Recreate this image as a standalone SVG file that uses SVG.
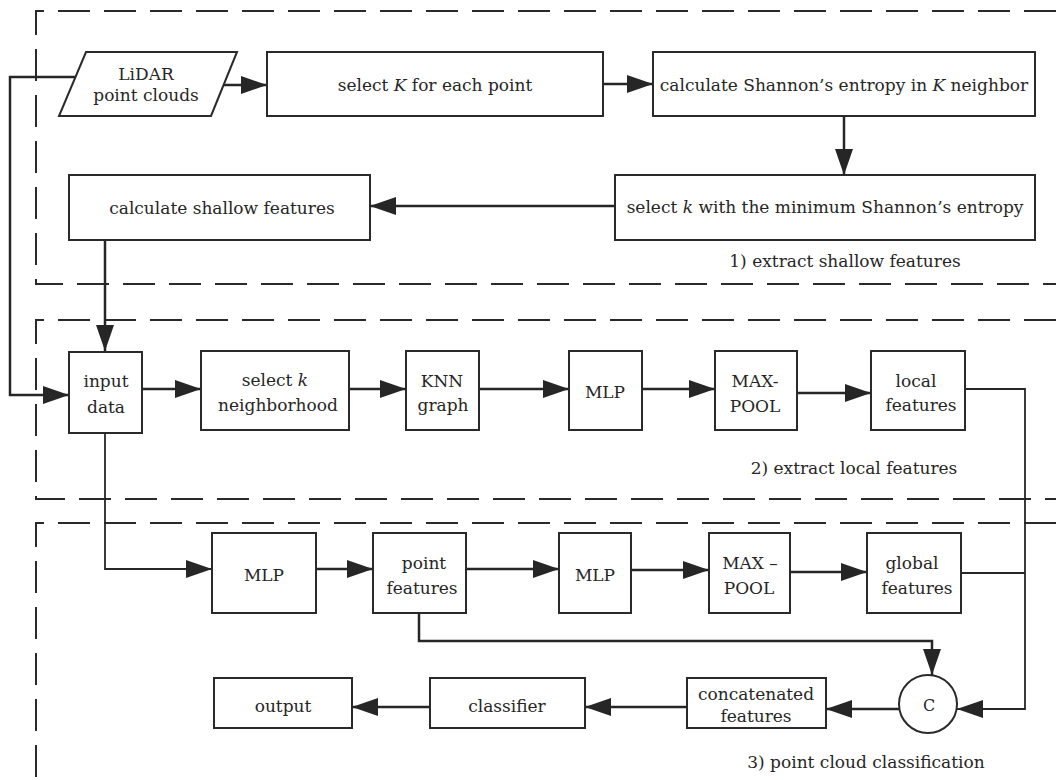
<svg xmlns="http://www.w3.org/2000/svg" width="1056" height="780" viewBox="0 0 1056 780">
<defs>
<marker id="ah" markerUnits="userSpaceOnUse" markerWidth="28" markerHeight="20" refX="26" refY="9" orient="auto">
<path d="M0,0 L26,9 L0,18 z" fill="#262626"/>
</marker>
<style>
.bx{fill:#fff;stroke:#2a2a2a;stroke-width:2}
.ds{fill:none;stroke:#2a2a2a;stroke-width:2;stroke-dasharray:32 14}
.cn{fill:none;stroke:#262626;stroke-width:2.5}
.cn2{fill:none;stroke:#262626;stroke-width:1.8}
.t{font-family:'DejaVu Serif',serif;font-size:17px;fill:#262626;text-anchor:middle}
.it{font-style:italic}
</style>
</defs>
<rect width="1056" height="780" fill="#fff"/>
<g id="sections" class="t">
<path class="ds" d="M1056,11 H36 V284 H1056"/>
<path class="ds" d="M1056,320 H36 V499 H1056"/>
<path class="ds" d="M1056,523 H36 V780"/>
<text x="845" y="267">1)  extract shallow features</text>
<text x="854" y="474">2) extract local features</text>
<text x="866" y="768">3)  point cloud classification</text>
</g>
<g id="connectors">
<path class="cn" d="M224,85 H267" marker-end="url(#ah)"/>
<path class="cn" d="M603,84 H653" marker-end="url(#ah)"/>
<path class="cn" d="M844,116 V175" marker-end="url(#ah)"/>
<path class="cn" d="M615,206 H370" marker-end="url(#ah)"/>
<path class="cn" d="M105,240 V351" marker-end="url(#ah)"/>
<path class="cn" d="M75,77 H10 V395 H69" marker-end="url(#ah)"/>
<path class="cn" d="M142,389 H201" marker-end="url(#ah)"/>
<path class="cn" d="M349,389 H406" marker-end="url(#ah)"/>
<path class="cn" d="M479,389 H569" marker-end="url(#ah)"/>
<path class="cn" d="M642,389 H715" marker-end="url(#ah)"/>
<path class="cn" d="M797,393 H871" marker-end="url(#ah)"/>
<path class="cn2" d="M965,389 H1025 V709 H957" marker-end="url(#ah)"/>
<path class="cn2" d="M961,573 H1025"/>
<path class="cn2" d="M105,433 V569 H212" marker-end="url(#ah)"/>
<path class="cn" d="M316,569 H373" marker-end="url(#ah)"/>
<path class="cn" d="M466,569 H559" marker-end="url(#ah)"/>
<path class="cn" d="M631,570 H709" marker-end="url(#ah)"/>
<path class="cn" d="M790,572 H867" marker-end="url(#ah)"/>
<path class="cn" d="M419,613 V641 H932 V675" marker-end="url(#ah)"/>
<path class="cn" d="M900,709 H826" marker-end="url(#ah)"/>
<path class="cn" d="M687,707 H585" marker-end="url(#ah)"/>
<path class="cn" d="M430,707 H352" marker-end="url(#ah)"/>
</g>
<g class="t">
<g id="lidar">
<path class="bx" d="M86,52 H237 L211,116 H59 z"/>
<text x="146" y="80">LiDAR</text>
<text x="146" y="101">point clouds</text>
</g>
<g id="selectK">
<rect class="bx" x="267" y="52" width="336" height="64"/>
<text x="435" y="91">select <tspan class="it">K</tspan> for each point</text>
</g>
<g id="shannon">
<rect class="bx" x="653" y="52" width="382" height="64"/>
<text x="844" y="91">calculate Shannon’s entropy in <tspan class="it">K</tspan> neighbor</text>
</g>
<g id="minEntropy">
<rect class="bx" x="615" y="175" width="420" height="65"/>
<text x="825" y="213">select <tspan class="it">k</tspan> with the minimum Shannon’s  entropy</text>
</g>
<g id="shallow">
<rect class="bx" x="69" y="175" width="301" height="65"/>
<text x="222" y="214">calculate shallow features</text>
</g>
<g id="inputData">
<rect class="bx" x="69" y="352" width="73" height="81"/>
<text x="106" y="387">input</text>
<text x="106" y="413">data</text>
</g>
<g id="selectNeighborhood">
<rect class="bx" x="201" y="351" width="148" height="79"/>
<text x="275" y="386">select <tspan class="it">k</tspan></text>
<text x="278" y="411">neighborhood</text>
</g>
<g id="knn">
<rect class="bx" x="406" y="351" width="73" height="79"/>
<text x="442" y="387">KNN</text>
<text x="443" y="411">graph</text>
</g>
<g id="mlp1">
<rect class="bx" x="569" y="351" width="73" height="79"/>
<text x="605" y="398">MLP</text>
</g>
<g id="maxpool1">
<rect class="bx" x="715" y="351" width="82" height="79"/>
<text x="755" y="387">MAX-</text>
<text x="755" y="412">POOL</text>
</g>
<g id="localFeatures">
<rect class="bx" x="871" y="351" width="94" height="79"/>
<text x="916" y="387">local</text>
<text x="921" y="411">features</text>
</g>
<g id="mlp2">
<rect class="bx" x="212" y="533" width="104" height="80"/>
<text x="264" y="581">MLP</text>
</g>
<g id="pointFeatures">
<rect class="bx" x="373" y="533" width="93" height="80"/>
<text x="424" y="569">point</text>
<text x="422" y="594">features</text>
</g>
<g id="mlp3">
<rect class="bx" x="559" y="533" width="72" height="80"/>
<text x="595" y="581">MLP</text>
</g>
<g id="maxpool2">
<rect class="bx" x="709" y="533" width="81" height="80"/>
<text x="750" y="569">MAX –</text>
<text x="749" y="594">POOL</text>
</g>
<g id="globalFeatures">
<rect class="bx" x="867" y="533" width="94" height="80"/>
<text x="912" y="569">global</text>
<text x="917" y="594">features</text>
</g>
<g id="concat">
<circle class="bx" cx="928" cy="704" r="29"/>
<text x="929" y="711" style="font-size:16px">C</text>
</g>
<g id="concatenated">
<rect class="bx" x="687" y="678" width="139" height="50"/>
<text x="756" y="700">concatenated</text>
<text x="756" y="722">features</text>
</g>
<g id="classifier">
<rect class="bx" x="430" y="678" width="155" height="50"/>
<text x="507" y="712">classifier</text>
</g>
<g id="output">
<rect class="bx" x="214" y="678" width="138" height="50"/>
<text x="283" y="712">output</text>
</g>
</g>
</svg>
